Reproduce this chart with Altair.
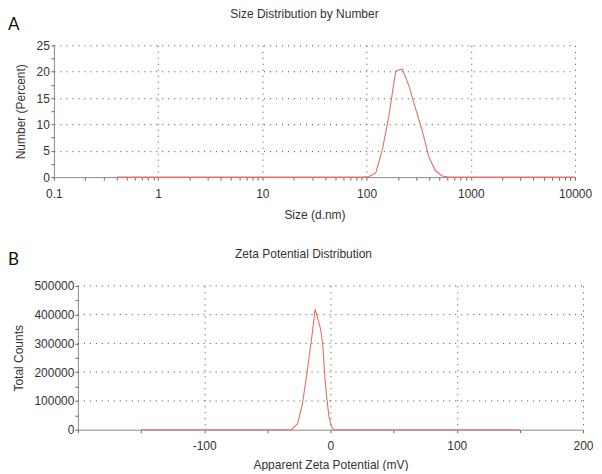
import altair as alt
import pandas as pd

# ---------------- data ----------------
panel_letters = ["A", "B"]

size_nm = [0.4, 91.28, 105.7, 122.4, 141.8, 164.2, 190.1, 220.2, 255.0,
           295.3, 342.0, 396.1, 458.7, 531.2, 615.1, 10000]
number_pct = [0, 0, 0.1, 0.8, 5.2, 11.8, 20.1, 20.5, 17.3,
              13.0, 8.8, 3.8, 1.2, 0.2, 0, 0]

size_ticks = [0.1, 0.2, 0.3, 0.4, 0.5, 0.6, 0.7, 0.8, 0.9,
              1, 2, 3, 4, 5, 6, 7, 8, 9,
              10, 20, 30, 40, 50, 60, 70, 80, 90,
              100, 200, 300, 400, 500, 600, 700, 800, 900,
              1000, 2000, 3000, 4000, 5000, 6000, 7000, 8000, 9000, 10000]
number_ticks = [0, 2.5, 5, 7.5, 10, 12.5, 15, 17.5, 20, 22.5, 25]

zeta_mv = [-150, -31, -26, -22, -18.2, -14.3, -12.2, -9.6, -7.8,
           -6.0, -4.7, -3.1, -1.3, 0.8, 2.6, 150]
total_counts = [0, 0, 21000, 95000, 210000, 338000, 419000, 379000, 350000,
                292000, 200000, 119000, 50000, 9000, 0, 0]

zeta_ticks = [-200, -150, -100, -50, 0, 50, 100, 150, 200]
count_ticks = [0, 50000, 100000, 150000, 200000, 250000,
               300000, 350000, 400000, 450000, 500000]
count_grid = [100000, 200000, 300000, 400000, 500000]

# ---------------- style ----------------
FONT = "Liberation Sans"
LINE = "#E3706B"
GRID = "#444444"
TXT = "#333333"

W1, H1 = 522, 132             # top plot
W2, H2, SHIFT = 530, 144, 24  # bottom plot group (data starts SHIFT px in)

df_size = pd.DataFrame({"size": size_nm, "number": number_pct})
df_zeta = pd.DataFrame({"zeta": zeta_mv, "counts": total_counts})
df_cgrid = pd.DataFrame({"counts": count_grid,
                         "zeta": [zeta_ticks[0]] * len(count_grid),
                         "zeta2": [zeta_ticks[-1]] * len(count_grid)})

decade = "abs(log(datum.value)/LN10 - round(log(datum.value)/LN10)) < 0.000001"


def axis(title, values, label_expr, grid_test, label_pad, title_pad, **kw):
    opts = dict(
        title=title, values=values, labelExpr=label_expr,
        domainColor="#8a8a8a", domainWidth=1,
        tickColor="#666666", tickSize=3, tickWidth=1,
        labelFont=FONT, labelFontSize=12, labelColor=TXT, labelPadding=label_pad,
        labelOverlap=False, labelFlush=False,
        titleFont=FONT, titleFontSize=12, titleFontWeight="normal",
        titleColor=TXT, titlePadding=title_pad, zindex=0,
    )
    if grid_test is None:
        opts["grid"] = False
    else:
        opts.update(grid=True,
                    gridOpacity={"condition": {"test": grid_test, "value": 1}, "value": 0},
                    gridColor=GRID, gridDash=[1, 5], gridWidth=1)
    opts.update(kw)
    return alt.Axis(**opts)


def letter(ch, dy):
    return alt.Chart(pd.DataFrame({"p": [ch]})).mark_text(
        font="Lato", fontSize=17, color="#111111",
        align="left", baseline="middle",
    ).encode(text="p:N", x=alt.value(-46), y=alt.value(dy))


# ---------------- top panel ----------------
top_line = alt.Chart(df_size).mark_line(color=LINE, strokeWidth=1.1).encode(
    x=alt.X("size:Q",
            scale=alt.Scale(type="log", domain=[0.1, 10000], nice=False),
            axis=axis("Size (d.nm)", size_ticks,
                      f"({decade}) ? toString(datum.value) : ''",
                      f"({decade}) && datum.value > 0.15", 8, 10)),
    y=alt.Y("number:Q",
            scale=alt.Scale(domain=[0, 25], nice=False),
            axis=axis("Number (Percent)", number_ticks,
                      "datum.value % 5 == 0 ? toString(datum.value) : ''",
                      "datum.value % 5 == 0 && datum.value > 0", 1.5, 9)),
)

top = alt.layer(top_line, letter(panel_letters[0], -20)).properties(
    width=W1, height=H1,
    title=alt.Title("Size Distribution by Number", font=FONT, fontSize=12,
                    fontWeight="normal", color=TXT, offset=-5, dx=-10,
                    frame="group"),
)

# ---------------- bottom panel ----------------
xscale2 = alt.Scale(domain=[-200, 200], range=[SHIFT, W2], nice=False)
yscale2 = alt.Scale(domain=[0, 500000], nice=False)

xaxis2 = axis("Apparent Zeta Potential (mV)", zeta_ticks,
              "datum.value % 100 == 0 && datum.value > -200 ? toString(datum.value) : ''",
              "datum.value % 100 == 0 && datum.value > -200", 8, 8)
yaxis2 = axis("Total Counts", count_ticks,
              "datum.value % 100000 == 0 ? toString(datum.value) : ''",
              None, 1, 8, offset=-SHIFT, format="d")

bot_grid = alt.Chart(df_cgrid).mark_rule(color=GRID, strokeDash=[1, 5], strokeWidth=1).encode(
    x=alt.X("zeta:Q", scale=xscale2, axis=xaxis2),
    x2="zeta2:Q",
    y=alt.Y("counts:Q", scale=yscale2, axis=yaxis2),
)

bot_line = alt.Chart(df_zeta).mark_line(color=LINE, strokeWidth=1.1).encode(
    x=alt.X("zeta:Q", scale=xscale2, axis=xaxis2),
    y=alt.Y("counts:Q", scale=yscale2, axis=yaxis2),
)

bottom = alt.layer(bot_grid, bot_line, letter(panel_letters[1], -26)).properties(
    width=W2, height=H2,
    title=alt.Title("Zeta Potential Distribution", font=FONT, fontSize=12,
                    fontWeight="normal", color=TXT, offset=-10, dx=-15,
                    frame="group"),
)

chart = alt.vconcat(top, bottom, spacing=28).properties(
    padding={"left": 0, "top": 0, "right": 0, "bottom": 0},
    background="white",
).configure_view(stroke=None)

chart.save("out.html", embed_options={"renderer": "svg", "actions": False})
